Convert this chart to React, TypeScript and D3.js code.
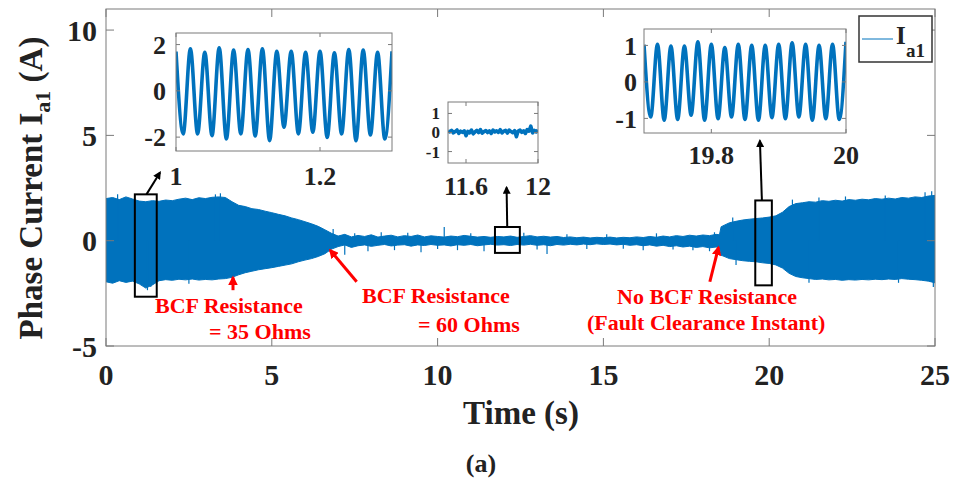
import React from 'react';
import * as d3 from 'd3';

// ---------- data ----------
const xTicks = [0, 5, 10, 15, 20, 25];
const yTicks = [-5, 0, 5, 10];

// envelope of the dense 50 Hz phase current (upper / lower extremes)
const envTime = [0,0.2,0.4,0.6,0.8,1,1.2,1.4,1.6,1.8,2,2.2,2.4,2.6,2.8,3,3.2,3.4,3.6,3.8,4,4.2,4.4,4.6,4.8,5,5.2,5.4,5.6,5.8,6,6.2,6.4,6.6,6.8,7,7.2,7.4,7.6,7.8,8,8.2,8.4,8.6,8.8,9,9.2,9.4,9.6,9.8,10,10.2,10.4,10.6,10.8,11,11.2,11.4,11.6,11.8,12,12.2,12.4,12.6,12.8,13,13.2,13.4,13.6,13.8,14,14.2,14.4,14.6,14.8,15,15.2,15.4,15.6,15.8,16,16.2,16.4,16.6,16.8,17,17.2,17.4,17.6,17.8,18,18.2,18.4,18.5,18.55,18.6,18.8,19,19.2,19.4,19.6,19.8,20,20.2,20.4,20.6,20.8,21,21.2,21.4,21.6,21.8,22,22.2,22.4,22.6,22.8,23,23.2,23.4,23.6,23.8,24,24.2,24.4,24.6,24.8,25];
const envUpper = [2.00,2.05,1.95,2.08,1.98,1.88,1.85,1.90,1.87,1.93,1.90,1.97,2.02,1.95,2.04,2.00,2.06,2.08,2.05,
  1.85,1.68,1.62,1.52,1.48,1.40,1.33,1.25,1.18,1.08,1.00,0.90,0.80,0.68,0.52,0.35,
  0.22,0.30,0.18,0.25,0.20,0.28,0.17,0.22,0.26,0.18,0.24,0.20,0.27,0.18,0.23,0.20,0.17,0.22,0.19,0.25,0.21,0.17,0.20,0.16,0.20,0.18,0.22,0.16,0.20,0.24,0.18,0.21,0.17,0.20,0.15,0.18,0.14,0.17,0.13,0.16,0.14,0.17,0.13,0.16,0.14,0.18,0.15,0.20,0.16,0.22,0.18,0.24,0.20,0.26,0.22,0.27,0.24,0.30,
  0.28,0.66,
  0.70,0.85,0.92,0.98,1.02,1.05,1.08,1.12,1.18,1.35,1.62,1.76,1.80,1.85,1.83,1.90,1.87,1.92,1.88,1.95,1.92,1.97,1.94,2.00,1.97,2.02,1.98,2.05,2.02,2.08,2.05,2.12,2.15];
const envLower = [-1.95,-2.02,-1.90,-1.98,-1.92,-2.05,-2.25,-2.10,-1.90,-1.85,-1.88,-1.83,-1.86,-1.82,-1.87,-1.84,-1.86,-1.82,-1.80,
  -1.74,-1.62,-1.52,-1.45,-1.38,-1.33,-1.28,-1.22,-1.16,-1.10,-1.00,-0.92,-0.85,-0.75,-0.62,-0.40,
  -0.28,-0.20,-0.32,-0.24,-0.20,-0.27,-0.22,-0.18,-0.25,-0.21,-0.19,-0.26,-0.20,-0.23,-0.18,-0.22,-0.20,-0.25,-0.19,-0.22,-0.18,-0.24,-0.20,-0.17,-0.21,-0.19,-0.23,-0.18,-0.21,-0.17,-0.22,-0.19,-0.24,-0.18,-0.21,-0.17,-0.20,-0.16,-0.19,-0.15,-0.18,-0.16,-0.20,-0.17,-0.22,-0.19,-0.24,-0.20,-0.26,-0.22,-0.28,-0.24,-0.30,-0.26,-0.32,-0.28,-0.34,-0.30,
  -0.32,-0.70,
  -0.72,-0.85,-0.90,-0.95,-0.98,-1.00,-1.05,-1.08,-1.15,-1.30,-1.55,-1.70,-1.76,-1.80,-1.84,-1.82,-1.86,-1.84,-1.88,-1.85,-1.87,-1.84,-1.86,-1.83,-1.85,-1.82,-1.84,-1.80,-1.83,-1.85,-1.88,-1.92,-2.00];

// isolated spikes sticking out of the envelope [time, value]
const spikeTime = [0.35,1.25,1.35,2.5,3.3,3.45,6.85,7.2,7.5,7.9,8.3,8.7,9.1,9.5,10.0,10.2,10.6,11.0,11.4,12.6,13.0,13.3,13.9,14.5,15.1,15.6,16.2,16.6,17.1,17.7,18.2,18.35,18.9,19.0,20.7,21.2,21.5,22.3,23.5,23.9,24.7,24.9,24.95];
const spikeValue = [2.2,-2.35,-2.2,-2.05,2.2,2.25,0.55,-0.67,0.35,-0.5,0.4,-0.45,0.38,-0.55,-0.4,0.65,-0.45,0.35,-0.5,0.38,-0.42,-0.63,0.3,-0.4,0.3,-0.38,-0.45,0.35,-0.42,-0.45,-0.5,0.4,1.1,-1.15,1.95,-2.0,2.05,2.1,2.15,-2.0,2.3,2.35,-2.2];

// zoom 1: t = 1.00 .. 1.30, successive peaks/troughs every 0.01 s
const zoom1Start = 1.0;
const zoom1Values = [1.70,-1.86,1.82,-1.86,1.67,-1.94,1.86,-2.08,1.76,-1.86,1.79,-1.95,1.82,-2.15,1.71,-1.57,1.71,-1.86,1.67,-1.79,1.71,-2.01,1.64,-1.86,1.79,-2.15,1.76,-1.91,1.67,-2.08,1.71];
// zoom 2: t = 11.5 .. 12.0, samples every 0.01 s
const zoom2Start = 11.5;
const zoom2Values = [0.08,0.03,0.11,-0.02,0.05,0.13,-0.05,0.07,0.01,0.09,-0.17,0.06,-0.02,0.13,-0.07,0.03,0.11,-0.01,0.15,-0.03,0.05,0.10,0.00,0.08,-0.05,0.13,0.03,0.09,0.01,0.15,-0.02,0.07,0.11,-0.03,0.13,0.05,-0.01,0.10,-0.22,0.08,0.13,0.01,0.09,-0.05,0.15,0.07,0.33,-0.02,0.11,0.03,0.13];
// zoom 3: t = 19.70 .. 20.00, successive peaks/troughs every 0.01 s
const zoom3Start = 19.7;
const zoom3Values = [1.02,-0.96,1.03,-1.05,0.98,-1.03,0.98,-0.91,1.10,-1.05,1.03,-1.01,0.94,-0.96,1.03,-1.03,1.00,-1.05,1.00,-0.98,1.03,-1.01,1.07,-0.96,1.03,-1.05,1.00,-1.01,1.03,-1.03,1.10];

const FONT = '"Liberation Serif", "Times New Roman", serif';
const BLUE = '#0072BD';
const AXIS = '#7a7a7a';

function Inset({ id, xd, yd, left, right, top, bottom, start, step, values, xt, yt, curve, xLabelY, yLabelX, yFont }: any) {
  const sx = d3.scaleLinear().domain(xd).range([left, right]);
  const sy = d3.scaleLinear().domain(yd).range([bottom, top]);
  const line = d3.line<number>().x((_, i) => sx(start + step * i)).y((v) => sy(v)).curve(curve);
  const tl = 4;
  return (
    <g>
      <rect x={left} y={top} width={right - left} height={bottom - top} fill="white" stroke="none" />
      <defs>
        <clipPath id={id}>
          <rect x={left} y={top - 2} width={right - left} height={bottom - top + 4} />
        </clipPath>
      </defs>
      <path d={line(values) || ''} fill="none" stroke={BLUE} strokeWidth={3.6} clipPath={`url(#${id})`} strokeLinejoin="round" />
      <rect x={left} y={top} width={right - left} height={bottom - top} fill="none" stroke={AXIS} strokeWidth={1} />
      {xt.map((t: number) => (
        <g key={'x' + t}>
          <line x1={sx(t)} x2={sx(t)} y1={bottom} y2={bottom - tl} stroke={AXIS} />
          <line x1={sx(t)} x2={sx(t)} y1={top} y2={top + tl} stroke={AXIS} />
          <text x={sx(t)} y={xLabelY} textAnchor="middle" fontFamily={FONT} fontWeight="bold" fontSize={26} fill="#222">{String(t)}</text>
        </g>
      ))}
      {yt.map((t: number) => (
        <g key={'y' + t}>
          <line x1={left} x2={left + tl} y1={sy(t)} y2={sy(t)} stroke={AXIS} />
          <line x1={right} x2={right - tl} y1={sy(t)} y2={sy(t)} stroke={AXIS} />
          <text x={yLabelX} y={sy(t)} dy="0.35em" textAnchor="end" fontFamily={FONT} fontWeight="bold" fontSize={yFont} fill="#222">{String(t)}</text>
        </g>
      ))}
    </g>
  );
}

export default function App() {
  const W = 959, H = 480;
  const x = d3.scaleLinear().domain([0, 25]).range([106, 935]);
  const y = d3.scaleLinear().domain([-5, 11]).range([346, 9]);
  const area = d3.area<number>()
    .x((_, i) => x(envTime[i]))
    .y0((_, i) => y(envLower[i]))
    .y1((v) => y(v));
  const tick = 8;

  const boxes = [
    { t0: 0.87, t1: 1.53, v0: -2.66, v1: 2.2 },
    { t0: 11.73, t1: 12.48, v0: -0.58, v1: 0.65 },
    { t0: 19.58, t1: 20.08, v0: -2.12, v1: 1.91 },
  ];
  const blackArrows = [
    { t0: 1.22, v0: 2.2, t1: 1.63, v1: 3.24 },
    { t0: 12.1, v0: 0.65, t1: 12.08, v1: 2.53 },
    { t0: 19.78, v0: 1.91, t1: 19.72, v1: 4.75 },
  ];
  const redArrows = [
    { t0: 3.83, v0: -2.35, t1: 3.83, v1: -1.74 },
    { t0: 7.56, v0: -1.95, t1: 6.76, v1: -0.45 },
    { t0: 18.21, v0: -1.95, t1: 18.47, v1: -0.32 },
  ];

  return (
    <svg width={W} height={H} style={{ position: 'absolute', left: 0, top: 0, background: 'white' }}>
      <defs>
        <marker id="headK" viewBox="0 0 10 10" refX="8" refY="5" markerWidth="4" markerHeight="4" orient="auto">
          <path d="M0,0 L10,5 L0,10 z" fill="black" />
        </marker>
        <marker id="headR" viewBox="0 0 10 10" refX="8" refY="5" markerWidth="3.2" markerHeight="3.2" orient="auto">
          <path d="M0,0 L10,5 L0,10 z" fill="red" />
        </marker>
        <clipPath id="plotClip">
          <rect x={106} y={9} width={829} height={337} />
        </clipPath>
      </defs>
      <rect x={0} y={0} width={W} height={H} fill="white" />
      <rect x={106} y={9} width={829} height={337} fill="white" />

      {/* signal */}
      <g clipPath="url(#plotClip)">
        <path d={area(envUpper) || ''} fill={BLUE} stroke={BLUE} strokeWidth={1} />
        {spikeTime.map((t, i) => (
          <line key={i} x1={x(t)} x2={x(t)} y1={y(0)} y2={y(spikeValue[i])} stroke={BLUE} strokeWidth={1.2} />
        ))}
      </g>

      {/* axes box and ticks */}
      <rect x={106} y={9} width={829} height={337} fill="none" stroke={AXIS} strokeWidth={1} />
      {xTicks.map((t) => (
        <g key={'xt' + t}>
          <line x1={x(t)} x2={x(t)} y1={346} y2={346 - tick} stroke={AXIS} />
          <line x1={x(t)} x2={x(t)} y1={9} y2={9 + tick} stroke={AXIS} />
          <text x={x(t)} y={385} textAnchor="middle" fontFamily={FONT} fontWeight="bold" fontSize={30} fill="#222">{t}</text>
        </g>
      ))}
      {yTicks.map((t) => (
        <g key={'yt' + t}>
          <line x1={106} x2={106 + tick} y1={y(t)} y2={y(t)} stroke={AXIS} />
          <line x1={935} x2={935 - tick} y1={y(t)} y2={y(t)} stroke={AXIS} />
          <text x={97} y={y(t)} dy="0.35em" textAnchor="end" fontFamily={FONT} fontWeight="bold" fontSize={30} fill="#222">{t}</text>
        </g>
      ))}

      {/* axis labels */}
      <text x={521} y={424} textAnchor="middle" fontFamily={FONT} fontWeight="bold" fontSize={33} fill="#222">Time (s)</text>
      <text transform="translate(42,188) rotate(-90)" textAnchor="middle" fontFamily={FONT} fontWeight="bold" fontSize={33} fill="#222">
        Phase Current I<tspan fontSize={22} dy={8}>a1</tspan><tspan dy={-8}> (A)</tspan>
      </text>
      <text x={481} y={472} textAnchor="middle" fontFamily={FONT} fontWeight="bold" fontSize={26} fill="#222">(a)</text>

      {/* annotation boxes */}
      {boxes.map((b, i) => (
        <rect key={'b' + i} x={x(b.t0)} y={y(b.v1)} width={x(b.t1) - x(b.t0)} height={y(b.v0) - y(b.v1)} fill="none" stroke="black" strokeWidth={2} />
      ))}
      {blackArrows.map((a, i) => (
        <line key={'ka' + i} x1={x(a.t0)} y1={y(a.v0)} x2={x(a.t1)} y2={y(a.v1)} stroke="black" strokeWidth={2} markerEnd="url(#headK)" />
      ))}
      {redArrows.map((a, i) => (
        <line key={'ra' + i} x1={x(a.t0)} y1={y(a.v0)} x2={x(a.t1)} y2={y(a.v1)} stroke="red" strokeWidth={3} markerEnd="url(#headR)" />
      ))}

      {/* red annotations */}
      <g fontFamily={FONT} fontWeight="bold" fontSize={22} fill="red">
        <text x={155} y={313}>BCF Resistance</text>
        <text x={209} y={339}>= 35 Ohms</text>
        <text x={362} y={303}>BCF Resistance</text>
        <text x={418} y={332}>= 60 Ohms</text>
        <text x={617} y={304}>No BCF Resistance</text>
        <text x={587} y={330}>(Fault Clearance Instant)</text>
      </g>

      {/* insets */}
      <Inset id="clipZ1" xd={[1, 1.3]} yd={[-2.6, 2.5]} left={176} right={392} top={33} bottom={151}
        start={zoom1Start} step={0.01} values={zoom1Values} xt={[1, 1.2]} yt={[-2, 0, 2]}
        curve={d3.curveMonotoneX} xLabelY={185} yLabelX={166} yFont={26} />
      <Inset id="clipZ2" xd={[11.5, 12]} yd={[-1.6, 1.6]} left={448} right={538} top={102} bottom={163}
        start={zoom2Start} step={0.01} values={zoom2Values} xt={[11.6, 12]} yt={[-1, 0, 1]}
        curve={d3.curveLinear} xLabelY={195} yLabelX={440} yFont={17} />
      <Inset id="clipZ3" xd={[19.7, 20]} yd={[-1.4, 1.45]} left={644} right={846} top={29} bottom={133}
        start={zoom3Start} step={0.01} values={zoom3Values} xt={[19.8, 20]} yt={[-1, 0, 1]}
        curve={d3.curveMonotoneX} xLabelY={164} yLabelX={637} yFont={26} />

      {/* legend */}
      <rect x={859} y={16} width={73} height={46} fill="white" stroke="#333" strokeWidth={1.5} />
      <line x1={862} x2={893} y1={39} y2={39} stroke={BLUE} strokeWidth={1} />
      <text x={896} y={44} fontFamily={FONT} fontWeight="bold" fontSize={25} fill="#222">I</text>
      <text x={906} y={57} fontFamily={FONT} fontWeight="bold" fontSize={19} fill="#222">a1</text>
    </svg>
  );
}
